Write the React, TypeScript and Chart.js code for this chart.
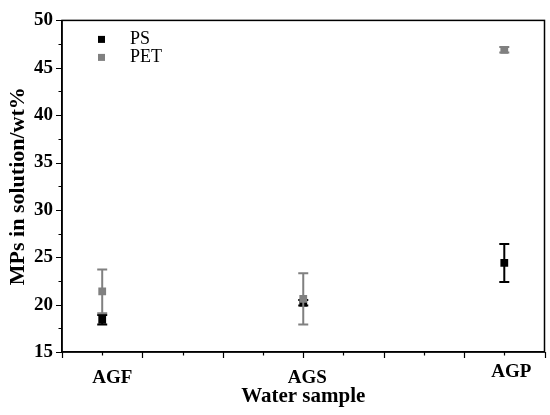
import React, { useEffect, useRef } from 'react';
import { Chart, registerables, ChartConfiguration, Plugin } from 'chart.js';

Chart.register(...registerables);

// Data
const categories = ['AGF', 'AGS', 'AGP'];
const categoryX = [1, 6, 11];
const psValues = [18.4, 20.2, 24.4];
const psErrors = [0.5, 0.3, 2.0];
const petValues = [21.4, 20.6, 46.9];
const petErrors = [2.3, 2.7, 0.3];

const PS_COLOR = '#000000';
const PET_COLOR = '#808080';
const FONT = "'Liberation Serif', 'Times New Roman', serif";

const seriesErrors = [psErrors, petErrors];

// error bars, drawn right before each dataset's markers
const errorBarPlugin: Plugin = {
  id: 'errorBars',
  beforeDatasetDraw(chart, args) {
    const { ctx, scales } = chart;
    const x = scales.x;
    const y = scales.y;
    const ds = chart.data.datasets[args.index] as any;
    const errors = seriesErrors[args.index];
    ctx.save();
    ctx.strokeStyle = ds.borderColor;
    ctx.lineWidth = 2;
    ds.data.forEach((p: { x: number; y: number }, i: number) => {
      const px = x.getPixelForValue(p.x);
      const top = y.getPixelForValue(p.y + errors[i]);
      const bottom = y.getPixelForValue(p.y - errors[i]);
      ctx.beginPath();
      ctx.moveTo(px, top);
      ctx.lineTo(px, bottom);
      ctx.moveTo(px - 5, top);
      ctx.lineTo(px + 5, top);
      ctx.moveTo(px - 5, bottom);
      ctx.lineTo(px + 5, bottom);
      ctx.stroke();
    });
    ctx.restore();
  },
};

// frame, minor/major ticks, category labels and the inside legend
const framePlugin: Plugin = {
  id: 'frame',
  afterDraw(chart) {
    const { ctx, chartArea, scales } = chart;
    const x = scales.x;
    const y = scales.y;
    const { left, right, top, bottom } = chartArea;
    ctx.save();
    ctx.strokeStyle = '#000';
    ctx.lineWidth = 1.5;
    ctx.strokeRect(left, top, right - left, bottom - top);

    ctx.lineWidth = 1.2;
    ctx.beginPath();
    for (let v = 15; v <= 50; v += 2.5) {
      const py = Math.round(y.getPixelForValue(v)) + 0.5;
      const len = v % 5 === 0 ? 6 : 3.5;
      ctx.moveTo(left, py);
      ctx.lineTo(left - len, py);
    }
    for (let v = 0; v <= 12; v += 1) {
      const px = Math.round(x.getPixelForValue(v)) + 0.5;
      const len = v % 2 === 0 ? 6 : 3.5;
      ctx.moveTo(px, bottom);
      ctx.lineTo(px, bottom + len);
    }
    ctx.stroke();

    // category labels
    const labelShift = [10, 4, 7];
    const labelDrop = [26, 26, 20];
    ctx.fillStyle = '#000';
    ctx.font = `bold 19px ${FONT}`;
    ctx.textAlign = 'center';
    ctx.textBaseline = 'middle';
    categories.forEach((c, i) => {
      ctx.fillText(c, x.getPixelForValue(categoryX[i]) + labelShift[i], bottom + labelDrop[i]);
    });

    // legend
    ctx.font = `18px ${FONT}`;
    ctx.textAlign = 'left';
    chart.data.datasets.forEach((ds: any, i) => {
      const ly = top + 19 + i * 18;
      ctx.fillStyle = ds.backgroundColor;
      ctx.fillRect(left + 36, ly - 3.5, 7, 7);
      ctx.fillStyle = '#000';
      ctx.fillText(ds.label, left + 68, ly);
    });
    ctx.restore();
  },
};

const App: React.FC = () => {
  const canvasRef = useRef<HTMLCanvasElement>(null);
  const chartRef = useRef<Chart | null>(null);

  useEffect(() => {
    if (!canvasRef.current) return;
    if (chartRef.current) chartRef.current.destroy();

    const config: ChartConfiguration = {
      type: 'scatter',
      data: {
        datasets: [
          {
            label: 'PS',
            data: psValues.map((v, i) => ({ x: categoryX[i], y: v })),
            backgroundColor: PS_COLOR,
            borderColor: PS_COLOR,
            pointStyle: 'rect',
            pointRadius: 5.5,
            borderWidth: 0,
            order: 1,
          },
          {
            label: 'PET',
            data: petValues.map((v, i) => ({ x: categoryX[i], y: v })),
            backgroundColor: PET_COLOR,
            borderColor: PET_COLOR,
            pointStyle: 'rect',
            pointRadius: 5.5,
            borderWidth: 0,
            order: 0,
          },
        ],
      },
      options: {
        responsive: true,
        maintainAspectRatio: false,
        animation: false,
        layout: { padding: { top: 14, right: 5, left: 0, bottom: 0 } },
        plugins: {
          legend: { display: false },
          tooltip: { enabled: false },
        },
        scales: {
          x: {
            type: 'linear',
            min: 0,
            max: 12,
            afterFit: (s: any) => { s.height = 63; },
            grid: { display: true, drawOnChartArea: false, drawTicks: false },
            border: { display: true, color: '#000', width: 1.5 },
            ticks: { display: false },
            title: {
              display: true,
              text: 'Water sample',
              color: '#000',
              font: { family: FONT, size: 21, weight: 'bold' },
              padding: { top: 0, bottom: 6 },
            },
          },
          y: {
            min: 15,
            max: 50,
            afterFit: (s: any) => { s.width = 62; },
            grid: { display: true, drawOnChartArea: false, drawTicks: false },
            border: { display: true, color: '#000', width: 1.5 },
            ticks: {
              stepSize: 5,
              color: '#000',
              padding: 9,
              font: { family: FONT, size: 19, weight: 'bold' },
            },
            title: {
              display: true,
              text: 'MPs in solution/wt%',
              color: '#000',
              font: { family: FONT, size: 22, weight: 'bold' },
              padding: { top: 5, bottom: 0 },
            },
          },
        },
      },
      plugins: [errorBarPlugin, framePlugin],
    };

    chartRef.current = new Chart(canvasRef.current, config);

    return () => {
      if (chartRef.current) {
        chartRef.current.destroy();
        chartRef.current = null;
      }
    };
  }, []);

  return (
    <div style={{ position: 'absolute', left: 0, top: 0, width: 550, height: 415, background: '#fff' }}>
      <canvas ref={canvasRef} />
    </div>
  );
};

export default App;
